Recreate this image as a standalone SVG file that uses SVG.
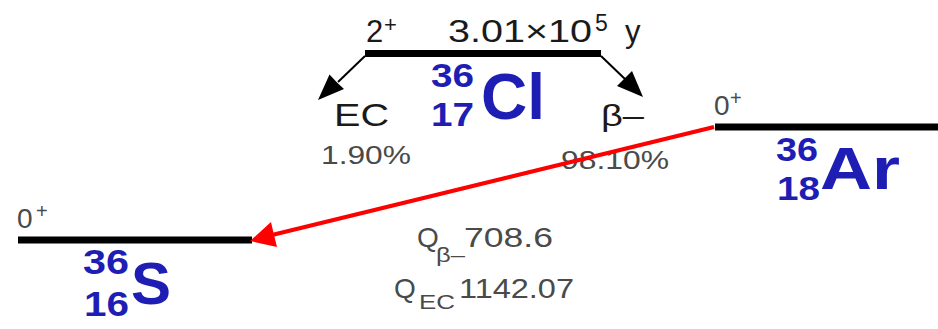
<svg xmlns="http://www.w3.org/2000/svg" width="938" height="329" viewBox="0 0 938 329">
<style>
.lvl{stroke:#000;stroke-width:7;fill:none}
.t{font-family:"Liberation Sans",Arial,sans-serif;fill:#1a1a1a}
.g{font-family:"Liberation Sans",Arial,sans-serif;fill:#4a4a4a}
.nuc{font-family:"Liberation Sans",Arial,sans-serif;font-weight:bold;fill:#1e1eb4}
.thin{stroke:#000;stroke-width:2;fill:none}
.red{stroke:#f00;stroke-width:4;fill:none}
</style>
<rect width="938" height="329" fill="#fff"/>
<g id="level-Cl36">
<line class="lvl" x1="365" y1="53.5" x2="601" y2="53.5"/>
<text class="t" x="366" y="42" font-size="31">2</text>
<text class="t" x="384" y="32" font-size="22">+</text>
<text class="t" x="448" y="42" font-size="31" textLength="144" lengthAdjust="spacingAndGlyphs">3.01×10</text>
<text class="t" x="595" y="31" font-size="23">5</text>
<text class="t" x="625" y="42" font-size="31">y</text>
<text class="nuc" x="431" y="87" font-size="34" textLength="43" lengthAdjust="spacingAndGlyphs">36</text>
<text class="nuc" x="431" y="125.5" font-size="34" textLength="43" lengthAdjust="spacingAndGlyphs">17</text>
<text class="nuc" x="481" y="119" font-size="64">Cl</text>
</g>
<g id="level-S36">
<line class="lvl" x1="18" y1="240" x2="252" y2="240"/>
<text class="g" x="17" y="228" font-size="28">0</text>
<text class="g" x="36" y="218" font-size="20">+</text>
<text class="nuc" x="83" y="274" font-size="35" textLength="46" lengthAdjust="spacingAndGlyphs">36</text>
<text class="nuc" x="84" y="316" font-size="35" textLength="45" lengthAdjust="spacingAndGlyphs">16</text>
<text class="nuc" x="131" y="304" font-size="60">S</text>
</g>
<g id="level-Ar36">
<line class="lvl" x1="715" y1="127" x2="938" y2="127"/>
<text class="g" x="714" y="115" font-size="28">0</text>
<text class="g" x="730" y="105" font-size="20">+</text>
<text class="nuc" x="776" y="161" font-size="34" textLength="42" lengthAdjust="spacingAndGlyphs">36</text>
<text class="nuc" x="777" y="200" font-size="34" textLength="43" lengthAdjust="spacingAndGlyphs">18</text>
<text class="nuc" x="820" y="189" font-size="60" textLength="80" lengthAdjust="spacingAndGlyphs">Ar</text>
</g>
<g id="connectors">
<g id="ec-branch">
<line class="thin" x1="365" y1="56" x2="338" y2="82"/>
<polygon points="318,100 329.5,74.5 337,82.5 344,89" fill="#000"/>
<text class="t" x="334" y="126" font-size="32" textLength="55" lengthAdjust="spacingAndGlyphs">EC</text>
<text class="g" x="321" y="164" font-size="25" textLength="90" lengthAdjust="spacingAndGlyphs">1.90%</text>
</g>
<g id="beta-branch">
<text class="t" x="601" y="126" font-size="30" textLength="43" lengthAdjust="spacingAndGlyphs">β–</text>
<text class="g" x="561" y="169" font-size="25" textLength="108" lengthAdjust="spacingAndGlyphs">98.10%</text>
<line class="thin" x1="601" y1="56" x2="626" y2="80"/>
<polygon points="643,97 617,86 624.5,78.5 632,71" fill="#000"/>
</g>
<g id="beta-transition">
<line class="red" x1="714" y1="127" x2="272" y2="235"/>
<polygon points="250,241 271,222 274,235 277,247" fill="#f00"/>
</g>
</g>
<g id="q-values">
<text class="g" x="417" y="247" font-size="28">Q</text>
<text class="g" x="436" y="262" font-size="21" textLength="29" lengthAdjust="spacingAndGlyphs">β–</text>
<text class="g" x="464" y="247" font-size="28" textLength="89" lengthAdjust="spacingAndGlyphs">708.6</text>
<text class="g" x="394" y="298" font-size="28">Q</text>
<text class="g" x="419" y="309" font-size="20" textLength="36" lengthAdjust="spacingAndGlyphs">EC</text>
<text class="g" x="459" y="298" font-size="28" textLength="115" lengthAdjust="spacingAndGlyphs">1142.07</text>
</g>
</svg>
